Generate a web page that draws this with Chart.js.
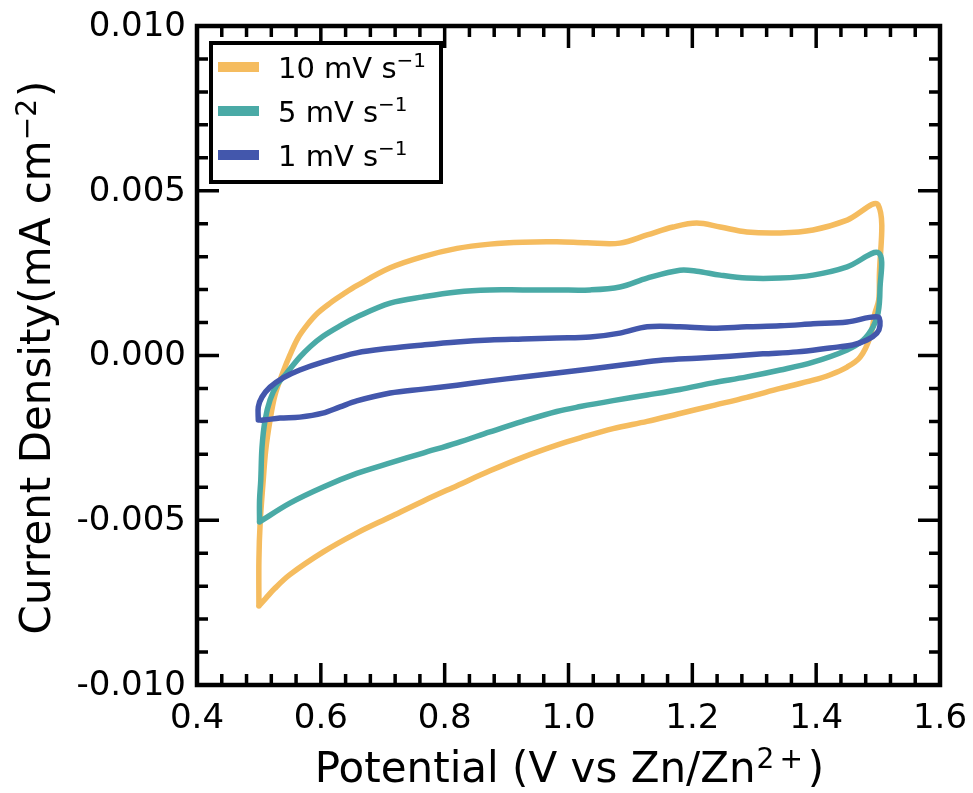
<!DOCTYPE html>
<html>
<head>
<meta charset="utf-8">
<script src="https://cdn.jsdelivr.net/npm/chart.js@4.4.0/dist/chart.umd.min.js"></script>
<style>
  body { margin: 0; background: #fff; }
</style>
</head>
<body>
<canvas id="cvChart" width="973" height="793"></canvas>
<script>
const FONT = '"DejaVu Sans", sans-serif';

// 10 mV/s : anodic sweep then cathodic sweep
const potential10 = [0.500, 0.500, 0.502, 0.507, 0.511, 0.518, 0.526, 0.539, 0.550, 0.563, 0.578, 0.595, 0.615, 0.636, 0.658, 0.712, 0.765, 0.820, 0.873, 0.926, 0.981, 1.030, 1.083, 1.127, 1.169, 1.207, 1.245, 1.288, 1.342, 1.395, 1.450, 1.500,
  1.502, 1.501, 1.495, 1.487, 1.471, 1.450, 1.422, 1.395, 1.342, 1.288, 1.233, 1.180, 1.127, 1.072, 1.019, 0.981, 0.926, 0.873, 0.820, 0.765, 0.712, 0.658, 0.604, 0.550, 0.525, 0.511, 0.500];
const current10 = [-0.00760, -0.00620, -0.00508, -0.00378, -0.00287, -0.00196, -0.00120, -0.00050, 0.00001, 0.00053, 0.00093, 0.00129, 0.00159, 0.00186, 0.00212, 0.00266, 0.00300, 0.00325, 0.00338, 0.00344, 0.00345, 0.00342, 0.00341, 0.00366, 0.00390, 0.00402, 0.00390, 0.00375, 0.00372, 0.00381, 0.00411, 0.00457,
  0.00229, 0.00168, 0.00129, 0.00056, -0.00005, -0.00035, -0.00059, -0.00075, -0.00100, -0.00127, -0.00152, -0.00176, -0.00200, -0.00222, -0.00250, -0.00272, -0.00309, -0.00350, -0.00395, -0.00442, -0.00490, -0.00539, -0.00596, -0.00665, -0.00708, -0.00737, -0.00760];

// 5 mV/s
const potential5 = [0.501, 0.501, 0.503, 0.505, 0.510, 0.518, 0.529, 0.545, 0.566, 0.584, 0.603, 0.631, 0.658, 0.712, 0.765, 0.820, 0.873, 0.926, 0.981, 1.035, 1.083, 1.127, 1.180, 1.207, 1.245, 1.288, 1.342, 1.395, 1.450, 1.501,
  1.503, 1.500, 1.492, 1.476, 1.450, 1.395, 1.342, 1.288, 1.233, 1.180, 1.127, 1.072, 1.019, 0.981, 0.926, 0.873, 0.820, 0.765, 0.712, 0.658, 0.604, 0.550, 0.501];
const current5 = [-0.00505, -0.00440, -0.00378, -0.00278, -0.00196, -0.00135, -0.00090, -0.00053, -0.00005, 0.00029, 0.00058, 0.00090, 0.00117, 0.00159, 0.00178, 0.00193, 0.00199, 0.00199, 0.00199, 0.00199, 0.00208, 0.00235, 0.00259, 0.00256, 0.00244, 0.00235, 0.00235, 0.00244, 0.00269, 0.00311,
  0.00199, 0.00129, 0.00087, 0.00047, 0.00017, -0.00020, -0.00044, -0.00065, -0.00083, -0.00103, -0.00120, -0.00137, -0.00155, -0.00170, -0.00200, -0.00232, -0.00265, -0.00296, -0.00326, -0.00358, -0.00399, -0.00448, -0.00505];

// 1 mV/s
const potential1 = [0.499, 0.499, 0.505, 0.518, 0.539, 0.566, 0.603, 0.658, 0.712, 0.765, 0.820, 0.873, 0.926, 0.981, 1.035, 1.083, 1.127, 1.180, 1.233, 1.288, 1.342, 1.395, 1.450, 1.500,
  1.503, 1.498, 1.482, 1.459, 1.422, 1.369, 1.314, 1.261, 1.207, 1.153, 1.099, 1.035, 0.981, 0.926, 0.873, 0.820, 0.765, 0.712, 0.658, 0.631, 0.603, 0.566, 0.534, 0.507, 0.499];
const current1 = [-0.00196, -0.00156, -0.00126, -0.00096, -0.00068, -0.00044, -0.00020, 0.00008, 0.00022, 0.00032, 0.00041, 0.00047, 0.00050, 0.00053, 0.00056, 0.00068, 0.00087, 0.00087, 0.00083, 0.00087, 0.00090, 0.00096, 0.00102, 0.00117,
  0.00090, 0.00068, 0.00047, 0.00032, 0.00023, 0.00011, 0.00005, -0.00002, -0.00008, -0.00014, -0.00026, -0.00041, -0.00053, -0.00065, -0.00077, -0.00090, -0.00102, -0.00114, -0.00138, -0.00156, -0.00175, -0.00187, -0.00190, -0.00196, -0.00196];

const seriesNames = ["10 mV s", "5 mV s", "1 mV s"];
const seriesColors = ["#F5BC5F", "#4AAAA6", "#4357AC"];

const xTicks = [0.4, 0.6, 0.8, 1.0, 1.2, 1.4, 1.6];
const xTickLabels = ["0.4", "0.6", "0.8", "1.0", "1.2", "1.4", "1.6"];
const yTicks = [-0.010, -0.005, 0.000, 0.005, 0.010];
const yTickLabels = ["-0.010", "-0.005", "0.000", "0.005", "0.010"];

function toPoints(xs, ys) {
  return xs.map((v, i) => ({ x: v, y: ys[i] }));
}

// text with superscript pieces
function drawRich(ctx, parts, x, y, align) {
  let total = 0;
  parts.forEach((p) => {
    ctx.font = `${p.size}px ${FONT}`;
    p.w = ctx.measureText(p.text).width;
    total += p.w + (p.gap || 0);
  });
  let cx = align === "center" ? x - total / 2 : x;
  ctx.textAlign = "left";
  ctx.textBaseline = "alphabetic";
  parts.forEach((p) => {
    cx += p.gap || 0;
    ctx.font = `${p.size}px ${FONT}`;
    ctx.fillText(p.text, cx, y - (p.rise || 0));
    cx += p.w;
  });
}

const axisDecor = {
  id: "axisDecor",
  afterDraw(chart) {
    const { ctx, chartArea: a, scales } = chart;
    const sx = scales.x;
    const sy = scales.y;
    ctx.save();

    // inward ticks on all four sides
    ctx.strokeStyle = "#000";
    ctx.lineWidth = 3.5;
    ctx.beginPath();
    for (let i = 0; i <= 30; i++) {
      const px = sx.getPixelForValue(0.4 + i * 0.04);
      const len = i % 5 === 0 ? 22 : 11;
      ctx.moveTo(px, a.bottom);
      ctx.lineTo(px, a.bottom - len);
      ctx.moveTo(px, a.top);
      ctx.lineTo(px, a.top + len);
    }
    for (let i = 0; i <= 20; i++) {
      const py = sy.getPixelForValue(-0.01 + i * 0.001);
      const len = i % 5 === 0 ? 22 : 11;
      ctx.moveTo(a.left, py);
      ctx.lineTo(a.left + len, py);
      ctx.moveTo(a.right, py);
      ctx.lineTo(a.right - len, py);
    }
    ctx.stroke();

    ctx.lineWidth = 4.5;
    ctx.strokeRect(a.left, a.top, a.right - a.left, a.bottom - a.top);

    // tick labels
    ctx.fillStyle = "#000";
    ctx.font = `34px ${FONT}`;
    ctx.textAlign = "center";
    ctx.textBaseline = "alphabetic";
    xTicks.forEach((v, i) => ctx.fillText(xTickLabels[i], sx.getPixelForValue(v), a.bottom + 43));
    ctx.textAlign = "right";
    ctx.textBaseline = "middle";
    yTicks.forEach((v, i) => ctx.fillText(yTickLabels[i], a.left - 11, sy.getPixelForValue(v) + 1));

    // axis titles
    drawRich(ctx, [
      { text: "Potential (V vs Zn/Zn", size: 42 },
      { text: "2", size: 28, rise: 14, gap: 1 },
      { text: "+", size: 28, rise: 14, gap: 5 },
      { text: ")", size: 42, gap: 5 },
    ], (a.left + a.right) / 2 + 1, 782, "center");

    ctx.save();
    ctx.translate(50, (a.top + a.bottom) / 2 + 2);
    ctx.rotate(-Math.PI / 2);
    drawRich(ctx, [
      { text: "Current Density(mA cm", size: 42 },
      { text: "\u22122", size: 28, rise: 14 },
      { text: ")", size: 42, gap: 2 },
    ], 0, 0, "center");
    ctx.restore();

    // legend
    const lx = a.left + 14, ly = a.top + 17, lw = 230, lh = 139;
    ctx.fillStyle = "#fff";
    ctx.fillRect(lx, ly, lw, lh);
    ctx.lineWidth = 4;
    ctx.strokeStyle = "#000";
    ctx.strokeRect(lx, ly, lw, lh);
    chart.data.datasets.forEach((ds, i) => {
      const cy = ly + 24 + i * 44;
      ctx.strokeStyle = ds.borderColor;
      ctx.lineWidth = 10;
      ctx.beginPath();
      ctx.moveTo(lx + 7, cy);
      ctx.lineTo(lx + 48, cy);
      ctx.stroke();
      ctx.fillStyle = "#000";
      drawRich(ctx, [
        { text: seriesNames[i], size: 29 },
        { text: "\u22121", size: 20, rise: 11 },
      ], lx + 67, cy + 11, "left");
    });

    ctx.restore();
  },
};

const ctx = document.getElementById("cvChart").getContext("2d");
const cvChart = new Chart(ctx, {
  type: "scatter",
  data: {
    datasets: [
      { label: seriesNames[0], data: toPoints(potential10, current10), borderColor: seriesColors[0], order: 3 },
      { label: seriesNames[1], data: toPoints(potential5, current5), borderColor: seriesColors[1], order: 2 },
      { label: seriesNames[2], data: toPoints(potential1, current1), borderColor: seriesColors[2], order: 1 },
    ],
  },
  options: {
    responsive: false,
    animation: false,
    devicePixelRatio: 1,
    showLine: true,
    layout: { padding: { left: 197, right: 33, top: 26, bottom: 108 } },
    elements: {
      point: { radius: 0, hoverRadius: 0 },
      line: { borderWidth: 5.5, tension: 0.35, fill: false, borderCapStyle: "round", borderJoinStyle: "round" },
    },
    plugins: {
      legend: { display: false },
      tooltip: { enabled: false },
    },
    scales: {
      x: { type: "linear", min: 0.4, max: 1.6, display: false },
      y: { type: "linear", min: -0.01, max: 0.01, display: false },
    },
  },
  plugins: [axisDecor],
});
</script>
</body>
</html>
